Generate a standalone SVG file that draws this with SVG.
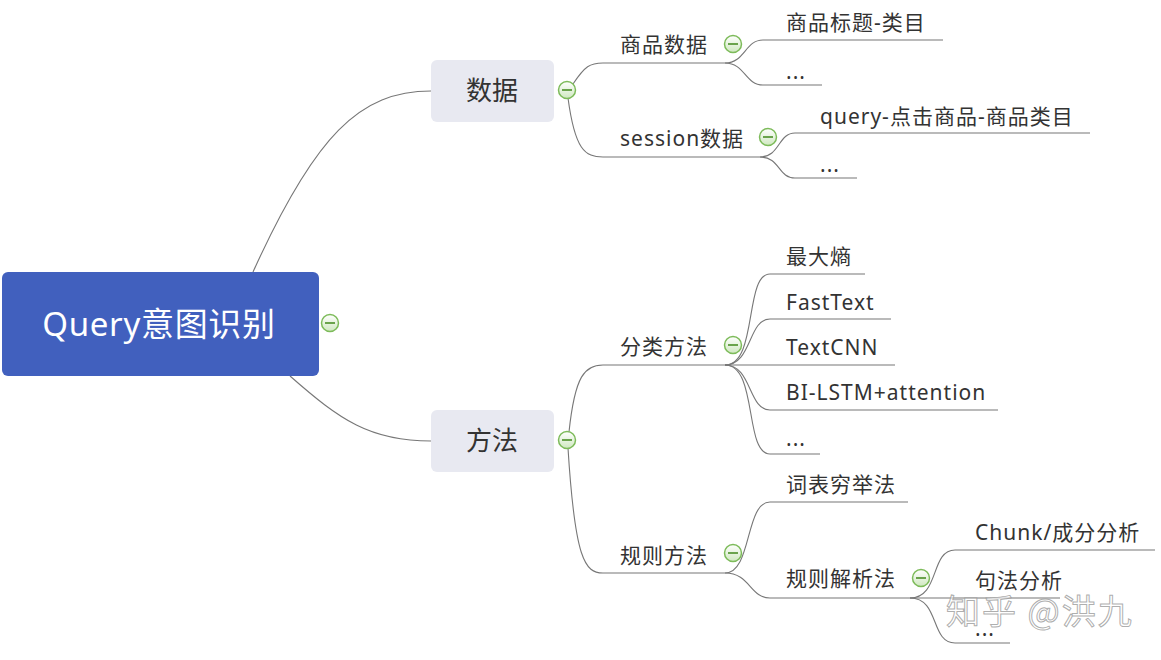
<svg xmlns="http://www.w3.org/2000/svg" width="1161" height="660" viewBox="0 0 1161 660">
<style>
.t{font-family:"Noto Sans","Noto Sans CJK SC",sans-serif;font-size:21px;fill:#333;letter-spacing:1px}
.b{font-family:"Noto Sans CJK SC","Noto Sans",sans-serif;font-size:26px;fill:#333;text-anchor:middle}
.c{fill:none;stroke:#777;stroke-width:1.1}
.box{fill:#e8e9f1}
</style>
<defs>
<linearGradient id="g" x1="0" y1="0" x2="0" y2="1">
<stop offset="0" stop-color="#ffffff"/><stop offset="1" stop-color="#cfe8c0"/>
</linearGradient>
<g id="col">
<circle r="8.5" fill="url(#g)" stroke="#7dbb5a" stroke-width="1.5"/>
<line x1="-5" y1="0" x2="5" y2="0" stroke="#5c9a3c" stroke-width="1.8"/>
</g>
</defs>
<rect width="1161" height="660" fill="#fff"/>
<g id="connectors">
<path class="c" d="M253,272 C315,135 360,91 431,91"/>
<path class="c" d="M290,376 C340,420 370,441 431,441"/>
<path class="c" d="M573,84 C585,66 590,63 603,63 H725"/>
<path class="c" d="M568,98 C575,150 585,157 603,157 H760"/>
<path class="c" d="M725,63 C745,63 745,40 763,40 H943"/>
<path class="c" d="M725,63 C745,63 745,85 763,85 H822"/>
<path class="c" d="M760,157 C780,157 778,133 795,133 H1090"/>
<path class="c" d="M760,157 C780,157 778,178 795,178 H857"/>
<path class="c" d="M569,432 C575,375 585,365 603,365 H725"/>
<path class="c" d="M568,448 C575,560 585,573 603,573 H725"/>
<path class="c" d="M725,365 C758,365 744,274 770,274 H865"/>
<path class="c" d="M725,365 C752,365 748,319 770,319 H891"/>
<path class="c" d="M725,365 H895"/>
<path class="c" d="M725,365 C752,365 748,410 770,410 H998"/>
<path class="c" d="M725,365 C758,365 744,454 770,454 H820"/>
<path class="c" d="M725,573 C752,573 745,502 770,502 H908"/>
<path class="c" d="M725,573 C750,573 750,598 770,598 H910"/>
<path class="c" d="M910,598 C940,598 930,550 955,550 H1155"/>
<path class="c" d="M910,598 H1060"/>
<path class="c" d="M910,598 C940,598 930,643 955,643 H1010"/>
</g>
<g id="root">
<rect x="2" y="272" width="317" height="104" rx="6" fill="#4160be"/>
<text x="159" y="336" text-anchor="middle" font-family="Noto Sans, Noto Sans CJK SC, sans-serif" font-size="33" letter-spacing="0.7" fill="#fff">Query意图识别</text>
<use href="#col" x="330" y="323"/>
</g>
<g id="n-data">
<rect class="box" x="431" y="60" width="123" height="62" rx="6"/>
<text class="b" x="492" y="100">数据</text>
<use href="#col" x="567" y="90"/>
</g>
<g id="n-method">
<rect class="box" x="431" y="410" width="123" height="62" rx="6"/>
<text class="b" x="492" y="450">方法</text>
<use href="#col" x="567" y="440"/>
</g>
<g id="n-goods"><text class="t" x="620" y="52">商品数据</text><use href="#col" x="733" y="44"/></g>
<g id="n-goods1"><text class="t" x="786" y="30">商品标题-类目</text></g>
<g id="n-goods2"><text class="t" x="786" y="79">...</text></g>
<g id="n-session"><text class="t" x="620" y="146">session数据</text><use href="#col" x="768" y="137"/></g>
<g id="n-session1"><text class="t" x="820" y="124">query-点击商品-商品类目</text></g>
<g id="n-session2"><text class="t" x="820" y="172">...</text></g>
<g id="n-cls"><text class="t" x="620" y="354">分类方法</text><use href="#col" x="733" y="345"/></g>
<g id="n-cls1"><text class="t" x="786" y="264">最大熵</text></g>
<g id="n-cls2"><text class="t" x="786" y="310">FastText</text></g>
<g id="n-cls3"><text class="t" x="786" y="355">TextCNN</text></g>
<g id="n-cls4"><text class="t" x="786" y="400">BI-LSTM+attention</text></g>
<g id="n-cls5"><text class="t" x="786" y="446">...</text></g>
<g id="n-rule"><text class="t" x="620" y="563">规则方法</text><use href="#col" x="733" y="553"/></g>
<g id="n-rule1"><text class="t" x="786" y="492">词表穷举法</text></g>
<g id="n-rule2"><text class="t" x="786" y="586">规则解析法</text><use href="#col" x="921" y="578"/></g>
<g id="n-parse1"><text class="t" x="975" y="540">Chunk/成分分析</text></g>
<g id="n-parse2"><text class="t" x="975" y="588">句法分析</text></g>
<g id="n-parse3"><text class="t" x="975" y="636">...</text></g>
<text x="946" y="624" font-family="Noto Sans CJK SC, sans-serif" font-size="34" letter-spacing="2" fill="#fff" fill-opacity="0.6" stroke="#999" stroke-width="1" stroke-opacity="0.8">知乎 @洪九</text>
</svg>
